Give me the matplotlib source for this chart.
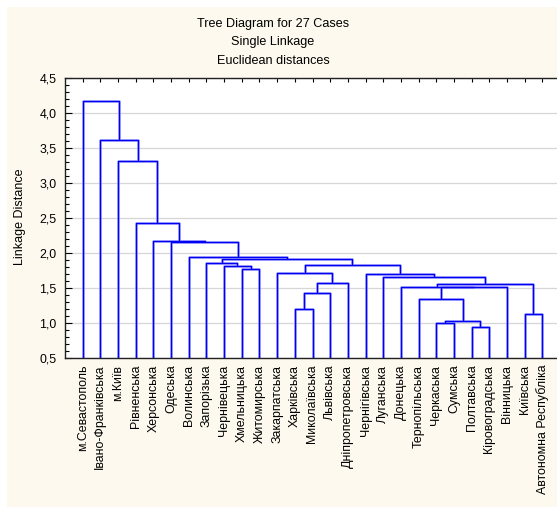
import matplotlib
matplotlib.use("Agg")
import matplotlib.pyplot as plt
from matplotlib.patches import Rectangle
from matplotlib.ticker import MultipleLocator, FuncFormatter

plt.rcParams['font.family'] = ['Liberation Sans', 'DejaVu Sans']

# листя дерева (зліва направо)
leaves = [
    "м.Севастополь", "Івано-Франківська", "м.Київ", "Рівненська", "Херсонська",
    "Одеська", "Волинська", "Запорізька", "Чернівецька", "Хмельницька",
    "Житомирська", "Закарпатська", "Харківська", "Миколаївська", "Львівська",
    "Дніпропетровська", "Чернігівська", "Луганська", "Донецька", "Тернопільська",
    "Черкаська", "Сумська", "Полтавська", "Кіровоградська", "Вінницька",
    "Київська", "Автономна Республіка",
]

# злиття: вузли < 27 - листя, далі - кластери в порядку появи
merge_left = [22, 20, 28, 25, 12, 19, 31, 32, 18, 35, 33, 17, 16, 11, 9, 8, 40, 7, 44, 6, 5, 4, 3, 2, 1, 0]
merge_right = [23, 21, 27, 26, 13, 29, 14, 24, 34, 30, 15, 36, 38, 37, 10, 41, 39, 42, 43, 45, 46, 47, 48, 49, 50, 51]
merge_height = [0.94, 0.99, 1.03, 1.12, 1.19, 1.34, 1.43, 1.51, 1.515, 1.555, 1.57, 1.655,
                1.695, 1.715, 1.77, 1.81, 1.83, 1.855, 1.915, 1.945, 2.15, 2.16, 2.42,
                3.31, 3.61, 4.17]

W, H = 557, 507
fig = plt.figure(figsize=(W / 100, H / 100), dpi=100)
fig.patch.set_facecolor("white")
fig.patches.append(Rectangle((7 / W, 0), 1, (H - 7) / H, transform=fig.transFigure,
                             facecolor="#fdf9ee", edgecolor="none", zorder=-10))

ax = fig.add_axes([65 / W, (H - 357.7) / H, 495 / W, 280 / H])
ax.set_zorder(1)
ax.set_facecolor("white")

n = len(leaves)
xpos = {i: i + 1 for i in range(n)}
ypos = {i: 0.5 for i in range(n)}
for k, (a, b, h) in enumerate(zip(merge_left, merge_right, merge_height)):
    node = n + k
    xs = [xpos[a], xpos[a], xpos[b], xpos[b]]
    ys = [ypos[a], h, h, ypos[b]]
    ax.plot(xs, ys, color="#9090ff", lw=1.8, solid_capstyle="butt", zorder=2)
    ax.plot(xs, ys, color="#0000f0", lw=0.9, solid_capstyle="butt", zorder=3)
    xpos[node] = (xpos[a] + xpos[b]) / 2
    ypos[node] = h

ax.set_xlim(0, n + 1)
ax.set_ylim(0.5, 4.5)
ax.set_xticks(range(1, n + 1))
ax.set_xticklabels(leaves, rotation=90, fontsize=8.9)
ax.yaxis.set_major_locator(MultipleLocator(0.5))
ax.yaxis.set_minor_locator(MultipleLocator(0.1))
ax.yaxis.set_major_formatter(FuncFormatter(lambda v, p: f"{v:.1f}".replace(".", ",")))
ax.tick_params(axis="x", direction="in", top=True, bottom=True, length=3, pad=5, width=0.8)
ax.tick_params(axis="y", which="major", direction="in", left=True, right=False,
               length=5, pad=6, labelsize=8.9, width=0.8)
ax.tick_params(axis="y", which="minor", direction="in", left=True, right=False,
               length=3, width=0.8)
ax.grid(axis="y", which="major", color="#d6d6d6", lw=0.9, zorder=0)
ax.set_axisbelow(True)
for s in ax.spines.values():
    s.set_linewidth(1.0)
    s.set_color("#222222")

fig.text(20 / W, 1 - 217 / H, "Linkage Distance", rotation=90, ha="center", va="center", fontsize=9)
for yy, t in zip([23.5, 42, 61], ["Tree Diagram for 27 Cases", "Single Linkage", "Euclidean distances"]):
    fig.text(273 / W, 1 - yy / H, t, ha="center", va="center", fontsize=9.1)

fig.savefig("out.png", dpi=100)
